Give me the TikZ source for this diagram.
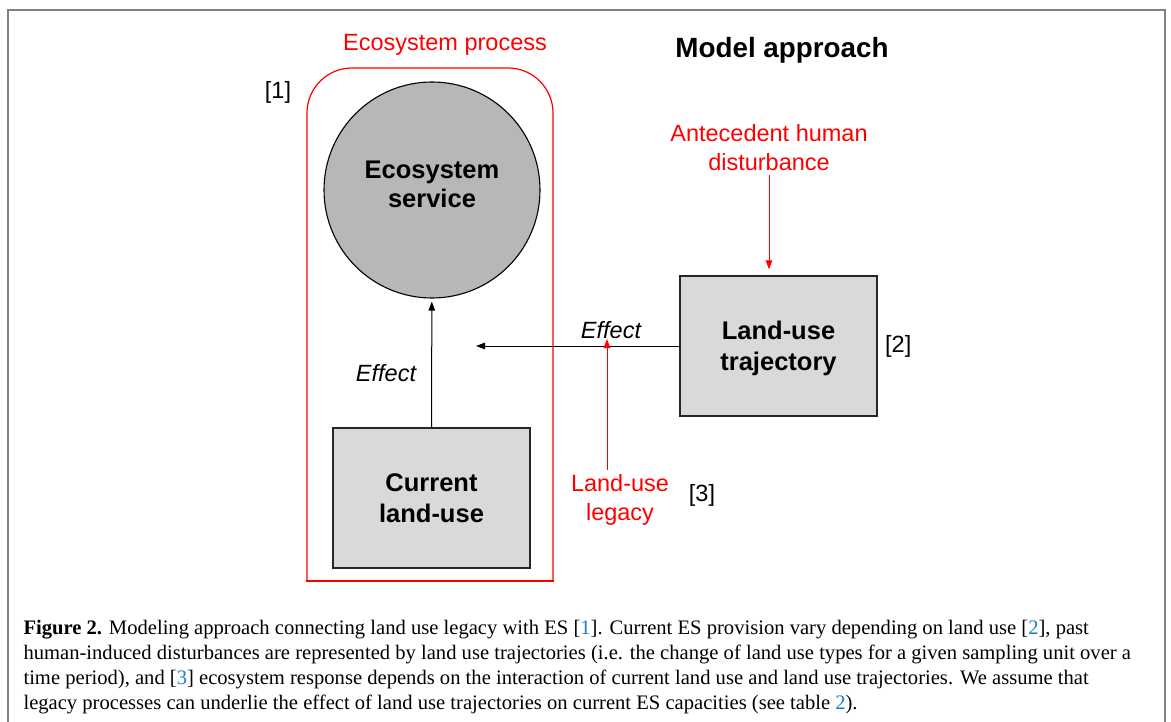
\documentclass[tikz,border=0pt]{standalone}
\usepackage{fontspec}
\setmainfont{Liberation Serif}
\newfontfamily\arial{Liberation Sans}
\usetikzlibrary{arrows.meta,positioning,shapes}
\definecolor{refblue}{RGB}{30,128,190}
\definecolor{boxgray}{RGB}{217,217,217}
\definecolor{esgray}{RGB}{183,183,183}
\newcommand{\blueref}[1]{{\color{refblue}#1}}
\tikzset{
        x=1pt, y=-1pt, % one unit is one pixel, y runs down
        >={Triangle[length=9pt,width=6.5pt]}, % small filled arrow heads
        every node/.style={font=\arial\fontsize{23.5}{29}\selectfont}, % plain labels
    }
\tikzset{
      gray box/.style={
		fill=boxgray,
		draw=black!85,
		line width=1.3pt,
		minimum width=197pt,
		minimum height=140pt,
		align=center,
		font=\arial\bfseries\fontsize{25.5}{30.5}\selectfont,
	  },
  		red label/.style={
    	text=red,
		align=center,
      },
  		red arrow/.style={
    	red, ->, line width=1pt,
      },
  		caption/.style={
    	anchor=north west,
		align=left,
		font=\fontsize{20.6}{25}\selectfont,
      }
  	}
\begin{document}
\begin{tikzpicture}
    \useasboundingbox (0,0) rectangle (1171,722);
    \draw[gray, line width=1.5pt] (8,740) -- (8,10) -- (1165,10) -- (1165,740);
    % ecosystem process frame
    \draw[red, line width=1.2pt, rounded corners=45pt] (307,581) -- (307,68) -- (553,68) -- (553,581);
    \draw[red, line width=1.2pt, line cap=rect] (307,581) -- (553,581);
    \node[red label] (proc) at (445,45) {Ecosystem process};
    \node[font=\arial\bfseries\fontsize{27.8}{33}\selectfont] (title) at (782,50) {Model approach};
    \node (r1) at (278,92) {[1]};
    \node [circle, fill=esgray, draw, line width=1.1pt, minimum size=216pt, align=center, text depth=12pt,
           font=\arial\bfseries\fontsize{25.5}{29}\selectfont] (es) at (432,190) {Ecosystem\\service};
    \node [gray box] (cur) at (431.5,498) {Current\\land-use};
    \node [gray box, text depth=-5pt] (traj) at (778.5,346) {Land-use\\trajectory};
    \node (r2) [right=4pt of traj] {[2]};
    \node [red label] (ante) at (769,148) {Antecedent human\\disturbance};
    \node [red label] (legacy) at (620,500) {Land-use\\legacy};
    \node (r3) at (702,495) {[3]};
    \coordinate (hit) at (476,346);
    \coordinate (meet) at (607,346);
    % effects
    \draw[->, line width=1pt, shorten >=3pt] (cur) -- (es);
    \node[font=\arial\itshape\fontsize{23.5}{29}\selectfont] (eff1) at (386,373) {Effect};
    \draw[->, line width=1pt] (traj.west) -- (hit);
    \node[font=\arial\itshape\fontsize{23.5}{29}\selectfont] (eff2) at (611,330) {Effect};
    \draw[red arrow] ([xshift=-13pt, yshift=1pt]legacy.north) -- ([yshift=7pt]meet);
    \draw[red arrow, shorten >=6pt] (ante.south) -- (ante.south |- traj.north);
    % caption
    \node[caption] (cap) at (20,617) {\textbf{Figure 2.} Modeling approach connecting land use legacy with ES [\blueref{1}]. Current ES provision vary depending on land use [\blueref{2}], past\\
    human-induced disturbances are represented by land use trajectories (i.e. the change of land use types for a given sampling unit over a\\
    time period), and [\blueref{3}] ecosystem response depends on the interaction of current land use and land use trajectories. We assume that\\
    legacy processes can underlie the effect of land use trajectories on current ES capacities (see table \blueref{2}).};
\end{tikzpicture}
\end{document}
